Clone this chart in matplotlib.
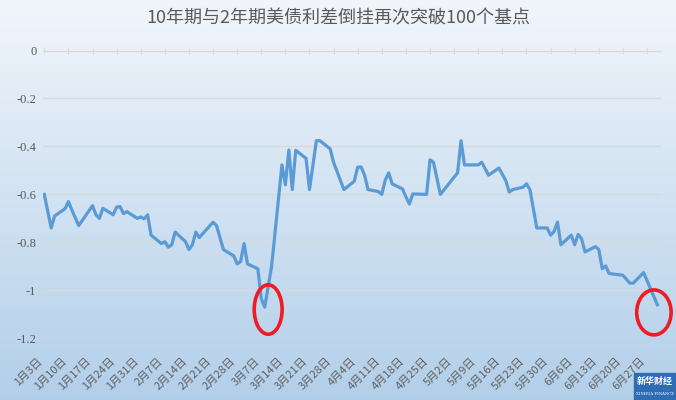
import numpy as np
import pandas as pd
import matplotlib
matplotlib.use('Agg')
import matplotlib.pyplot as plt
import matplotlib.dates as mdates
from matplotlib.patches import Ellipse, Rectangle

plt.rcParams['font.family'] = ['Noto Sans CJK SC', 'DejaVu Sans']

title = '10年期与2年期美债利差倒挂再次突破100个基点'

# 10y-2y spread (percentage points)
dates = ['2023-01-03', '2023-01-05', '2023-01-06', '2023-01-09', '2023-01-10', '2023-01-11',
         '2023-01-13', '2023-01-17', '2023-01-18', '2023-01-19', '2023-01-20', '2023-01-23',
         '2023-01-24', '2023-01-25', '2023-01-26', '2023-01-27', '2023-01-30', '2023-01-31',
         '2023-02-01', '2023-02-02', '2023-02-03', '2023-02-06', '2023-02-07', '2023-02-08',
         '2023-02-09', '2023-02-10', '2023-02-13', '2023-02-14', '2023-02-15', '2023-02-16',
         '2023-02-17', '2023-02-21', '2023-02-22', '2023-02-24', '2023-02-27', '2023-02-28',
         '2023-03-01', '2023-03-02', '2023-03-03', '2023-03-06', '2023-03-07', '2023-03-08',
         '2023-03-10', '2023-03-13', '2023-03-14', '2023-03-15', '2023-03-16', '2023-03-17',
         '2023-03-20', '2023-03-21', '2023-03-23', '2023-03-24', '2023-03-27', '2023-03-28',
         '2023-03-31', '2023-04-03', '2023-04-04', '2023-04-05', '2023-04-06', '2023-04-07',
         '2023-04-10', '2023-04-11', '2023-04-12', '2023-04-13', '2023-04-14', '2023-04-17',
         '2023-04-18', '2023-04-19', '2023-04-20', '2023-04-24', '2023-04-25', '2023-04-26',
         '2023-04-28', '2023-05-03', '2023-05-04', '2023-05-05', '2023-05-09', '2023-05-10',
         '2023-05-12', '2023-05-15', '2023-05-17', '2023-05-18', '2023-05-19', '2023-05-22',
         '2023-05-23', '2023-05-24', '2023-05-26', '2023-05-29', '2023-05-30', '2023-05-31',
         '2023-06-01', '2023-06-02', '2023-06-05', '2023-06-06', '2023-06-07', '2023-06-08',
         '2023-06-09', '2023-06-12', '2023-06-13', '2023-06-14', '2023-06-15', '2023-06-16',
         '2023-06-20', '2023-06-22', '2023-06-23', '2023-06-26', '2023-06-30']
spread = [-0.60, -0.74, -0.69, -0.66, -0.63, -0.665,
          -0.73, -0.647, -0.685, -0.70, -0.658, -0.685,
          -0.653, -0.651, -0.68, -0.672, -0.70, -0.694,
          -0.702, -0.685, -0.77, -0.805, -0.797, -0.82,
          -0.81, -0.757, -0.797, -0.83, -0.81, -0.757,
          -0.78, -0.716, -0.73, -0.83, -0.856, -0.89,
          -0.88, -0.805, -0.89, -0.91, -1.035, -1.07,
          -0.90, -0.477, -0.56, -0.415, -0.58, -0.416,
          -0.45, -0.58, -0.376, -0.376, -0.41, -0.467,
          -0.58, -0.545, -0.486, -0.486, -0.52, -0.58,
          -0.588, -0.60, -0.54, -0.51, -0.556, -0.577,
          -0.61, -0.64, -0.598, -0.60, -0.456, -0.466,
          -0.60, -0.51, -0.376, -0.477, -0.477, -0.466,
          -0.52, -0.49, -0.543, -0.59, -0.58, -0.57,
          -0.556, -0.58, -0.74, -0.74, -0.77, -0.755,
          -0.716, -0.81, -0.77, -0.81, -0.767, -0.785,
          -0.84, -0.818, -0.83, -0.91, -0.898, -0.93,
          -0.937, -0.97, -0.97, -0.926, -1.06]

tick_dates = pd.date_range('2023-01-03', '2023-06-27', freq='7D')
tick_labels = [f'{d.month}月{d.day}日' for d in tick_dates]
y_ticks = [0, -0.2, -0.4, -0.6, -0.8, -1.0, -1.2]
y_labels = ['0', '-0.2', '-0.4', '-0.6', '-0.8', '-1', '-1.2']

W, H = 676, 400
fig = plt.figure(figsize=(W / 100, H / 100), dpi=100)

# background gradient (light at top, blue at bottom)
bg = fig.add_axes([0, 0, 1, 1])
top_c = np.array([0.945, 0.963, 0.984])
bot_c = np.array([0.70, 0.812, 0.915])
t = np.linspace(0, 1, 256)[:, None, None]
bg.imshow(top_c + (bot_c - top_c) * t, aspect='auto', extent=[0, 1, 0, 1])
bg.axis('off')

ax = fig.add_axes([43.3 / W, (H - 338.3) / H, (661 - 43.3) / W, (338.3 - 50.5) / H])
ax.patch.set_alpha(0)

x = pd.to_datetime(dates)
ax.plot(x, spread, color='#5b9bd5', lw=2.3, zorder=3)

x0 = mdates.date2num(pd.Timestamp('2023-01-03'))
ax.set_xlim(x0 - 0.29, x0 + 179.06)
ax.set_ylim(-1.2, 0)

ax.set_yticks(y_ticks)
ax.set_yticklabels(y_labels, family=['Liberation Serif', 'DejaVu Sans'], fontsize=9, color='#595959')
ax.tick_params(axis='y', length=0, pad=5)
ax.yaxis.grid(True, color='#d9d9d9', lw=1)

ax.set_xticks(tick_dates)
ax.set_xticklabels(tick_labels, rotation=45, ha='right', va='top', fontsize=8, color='#606060')
ax.tick_params(axis='x', top=True, bottom=False, labeltop=False, labelbottom=True,
               direction='inout', length=5, color='#d9d9d9', pad=10)

for s in ['left', 'right', 'bottom']:
    ax.spines[s].set_visible(False)
ax.spines['top'].set_color('#d9d9d9')

# red circles marking the two breaks below -1
ax.add_patch(Ellipse((x0 + 65.0, -1.08), 8.1, 0.206, fill=False, ec='#ee1c25', lw=2.6,
                     clip_on=False, zorder=4))
ax.add_patch(Ellipse((x0 + 177.0, -1.092), 10.0, 0.1875, fill=False, ec='#ee1c25', lw=2.6,
                     clip_on=False, zorder=4))

fig.text(0.5, 1 - 18 / H, title, ha='center', va='center', fontsize=13, color='#595959')

# watermark logo
fig.add_artist(Rectangle((634 / W, 0), (W - 634) / W, 27 / H, transform=fig.transFigure,
                         color='#2e6db4', zorder=5))
fig.text(655 / W, 1 - 381 / H, '新华财经', ha='center', va='center', fontsize=6.5,
         color='white', style='italic', weight='bold', zorder=6)
fig.text(655 / W, 1 - 394 / H, 'XINHUA FINANCE', ha='center', va='center', fontsize=2.8,
         color='white', zorder=6, family=['DejaVu Serif'])

fig.savefig('out.png', dpi=100)
